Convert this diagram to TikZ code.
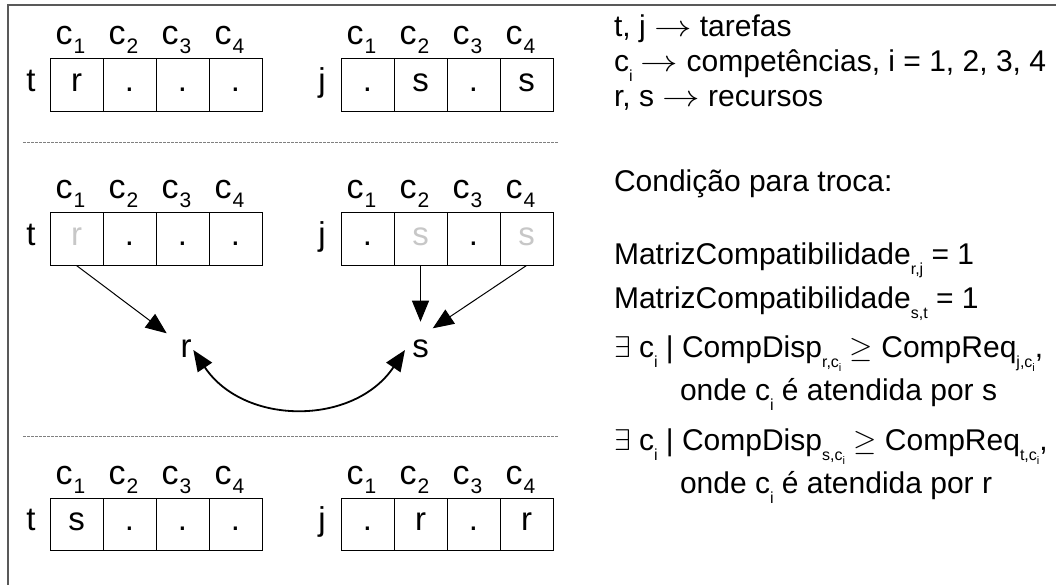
\RequirePackage{fix-cm}
\documentclass[tikz,border=0pt]{standalone}
\usepackage{graphicx}
\usepackage{fontspec}
\setmainfont{Liberation Sans}
\usetikzlibrary{arrows.meta,calc}

% header subscript (c_1 ... c_4 above the cells)
\newcommand\hsub[1]{\kern1pt\raisebox{-9pt}{\fontsize{21}{21}\selectfont #1}}
% subscript in the legend text
\newcommand\tsub[1]{\raisebox{-10pt}{\fontsize{16}{16}\selectfont #1}}
% subscript of a subscript
\newcommand\ssub[1]{\raisebox{-4pt}{\fontsize{11}{11}\selectfont #1}}
% long thin arrow used in the legend
\newcommand\larr{\scalebox{1.25}[1]{$\rightarrow$}}

\definecolor{ghost}{gray}{0.78}
\definecolor{framegray}{gray}{0.35}

\begin{document}
\begin{tikzpicture}[x=1pt,y=-1pt,
  every node/.style={font=\fontsize{30}{36}\selectfont, inner sep=0pt, outer sep=0pt},
  cellbox/.style={draw, line width=1pt, minimum width=53pt, minimum height=52.5pt,
                  font=\fontsize{33}{36}\selectfont, text height=21pt, text depth=8pt},
  rowlbl/.style={font=\fontsize{33}{36}\selectfont, text height=21pt, text depth=8pt},
  hdr/.style={anchor=base, font=\fontsize{34}{36}\selectfont},
  txt/.style={anchor=base west},
  letter/.style={anchor=base, font=\fontsize{33}{36}\selectfont},
  thinarrow/.style={line width=1pt, -{Triangle[length=21pt,width=17pt]}},
  swaparrow/.style={line width=1.8pt, {Triangle[length=21pt,width=17pt]}-{Triangle[length=21pt,width=17pt]}},
  sepline/.style={gray, line width=1pt, dash pattern=on 2.5pt off 1.5pt},
  frameline/.style={framegray, line width=2pt}
]
\useasboundingbox (0,0) rectangle (1056,585);

% outer frame (top and left edges)
\draw[frameline] (7.5,585) -- (7.5,5.5) -- (1056,5.5);

% separators between the three states
\draw[sepline] (23,143) -- (558,143);
\draw[sepline] (23,436) -- (558,436);

% row labels and column headers: #1 row id, #2 top of the cells
\newcommand\taskrow[2]{%
  \node[rowlbl] (t#1) at (31,#2+26.25) {t};
  \node[rowlbl] (j#1) at (322,#2+26.25) {j};
  \foreach \k in {1,...,4} {
    \node[hdr] (ht#1\k) at (23.5+53*\k-6,#2-14) {c\hsub{\k}};
    \node[hdr] (hj#1\k) at (314.5+53*\k-6,#2-14) {c\hsub{\k}};
  }
}

% state before the exchange
\taskrow{1}{59}
\foreach \k/\txt in {1/r,2/.,3/.,4/.}
  \node[cellbox] (t1c\k) at (23.5+53*\k,85.25) {\txt};
\foreach \k/\txt in {1/.,2/s,3/.,4/s}
  \node[cellbox] (j1c\k) at (314.5+53*\k,85.25) {\txt};

% resources taken out of their cells
\taskrow{2}{213}
\foreach \k/\txt in {1/{\color{ghost}r},2/.,3/.,4/.}
  \node[cellbox] (t2c\k) at (23.5+53*\k,239.25) {\txt};
\foreach \k/\txt in {1/.,2/{\color{ghost}s},3/.,4/{\color{ghost}s}}
  \node[cellbox] (j2c\k) at (314.5+53*\k,239.25) {\txt};

% the two resources and the exchange
\node[letter] (r) at (186,357) {r};
\node[letter] (s) at (420.5,357) {s};
\draw[thinarrow] (t2c1.south) -- ($(r.base)+(-19.3,-23.7)$);
\draw[thinarrow] (j2c2.south) -- ($(s.base)+(0,-35.3)$);
\draw[thinarrow] (j2c4.south) -- ($(s.base)+(12.2,-28.7)$);
\draw[swaparrow] ($(r.base)+(7.3,-7)$) .. controls ($(r.base)+(58,69)$) and ($(s.base)+(-66.5,69)$) .. ($(s.base)+(-15.5,-7)$);

% state after the exchange
\taskrow{3}{498}
\foreach \k/\txt in {1/s,2/.,3/.,4/.}
  \node[cellbox] (t3c\k) at (23.5+53*\k,524.25) {\txt};
\foreach \k/\txt in {1/.,2/r,3/.,4/r}
  \node[cellbox] (j3c\k) at (314.5+53*\k,524.25) {\txt};

% legend
\node[txt] (leg1) at (614,37) {t, j \larr{} tarefas};
\node[txt] (leg2) at (614,72) {c\tsub{i} \larr{} competências, i = 1, 2, 3, 4};
\node[txt] (leg3) at (614,107) {r, s \larr{} recursos};

% exchange condition
\node[txt] (cond) at (614,192) {Condição para troca:};
\node[txt] (m1) at (614,264) {MatrizCompatibilidade\tsub{r,j} = 1};
\node[txt] (m2) at (614,308) {MatrizCompatibilidade\tsub{s,t} = 1};
\node[txt] (e1) at (614,357) {$\exists$ c\tsub{i} | CompDisp\tsub{r,c\ssub{i}} $\geq$ CompReq\tsub{j,c\ssub{i}},};
\node[txt] (o1) at (680,400) {onde c\tsub{i} é atendida por s};
\node[txt] (e2) at (614,450) {$\exists$ c\tsub{i} | CompDisp\tsub{s,c\ssub{i}} $\geq$ CompReq\tsub{t,c\ssub{i}},};
\node[txt] (o2) at (680,493) {onde c\tsub{i} é atendida por r};
\end{tikzpicture}
\end{document}
